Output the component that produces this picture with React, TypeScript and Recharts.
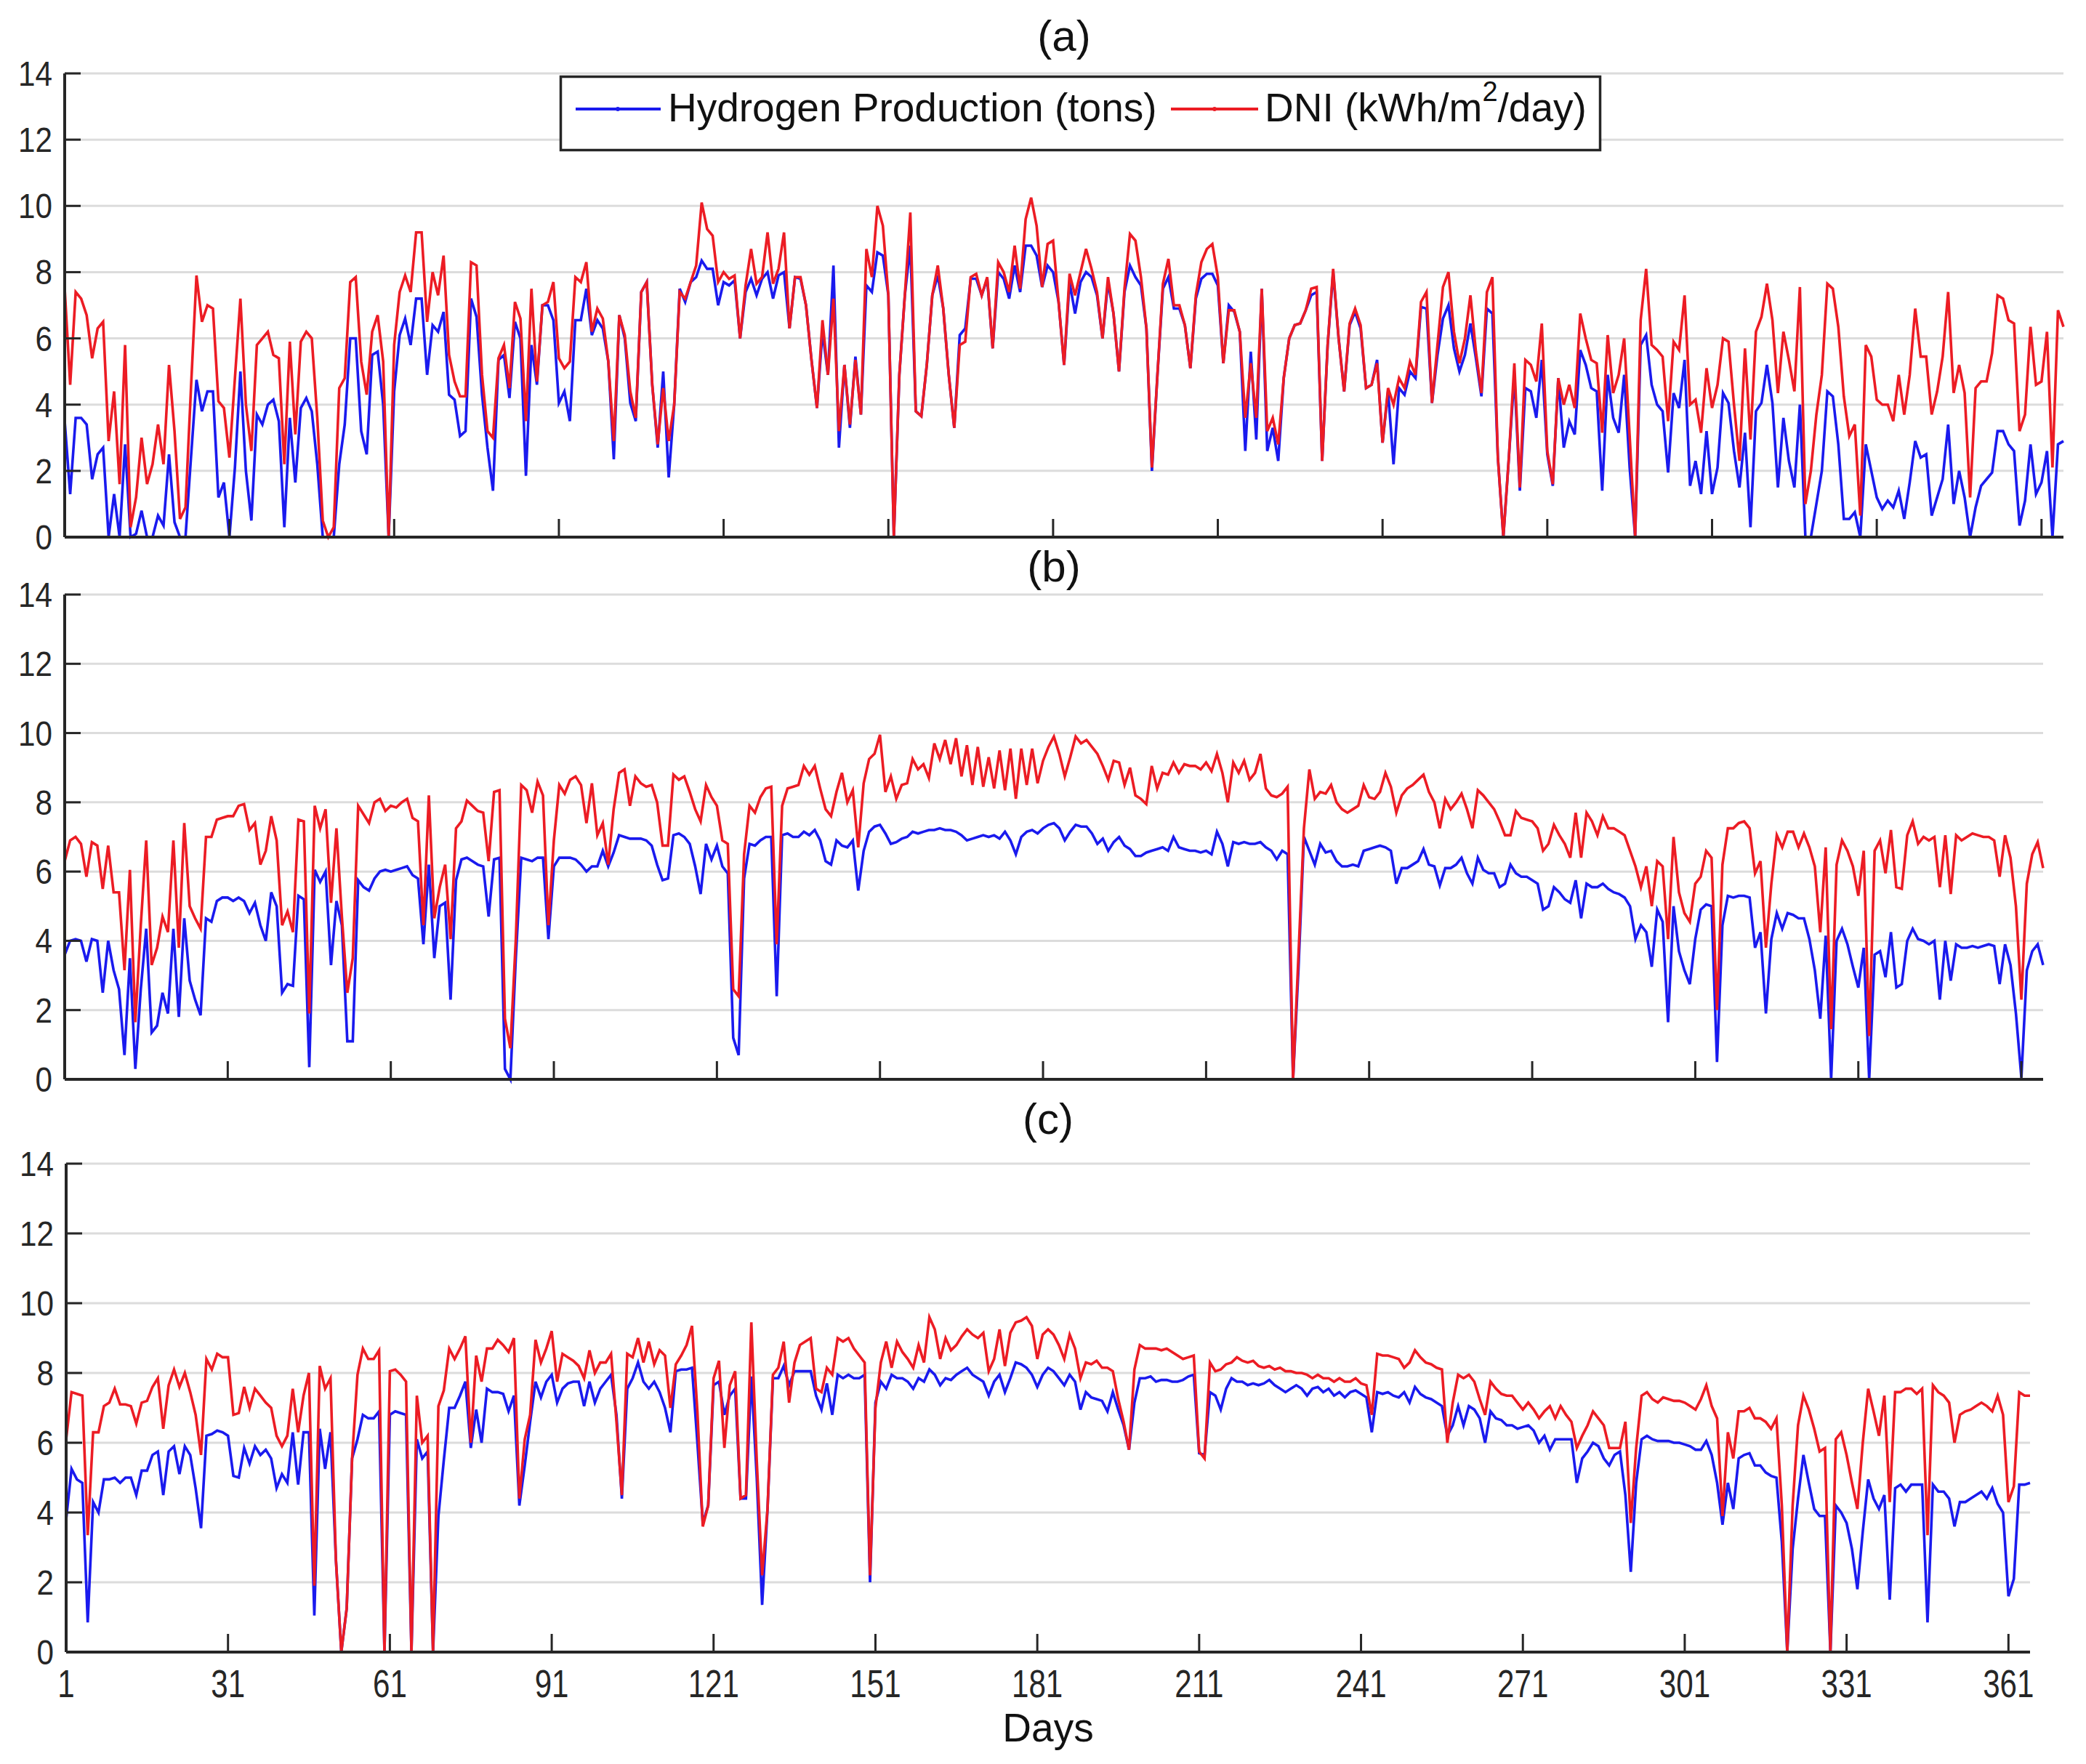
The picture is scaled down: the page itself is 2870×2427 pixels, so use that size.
import React from 'react';
import { LineChart, Line, XAxis, YAxis, CartesianGrid } from 'recharts';

// ---------- Panel (a) ----------
const aH2 = [
  3.5, 1.3, 3.6, 3.6, 3.4, 1.75, 2.5, 2.7, 0, 1.3,
  0, 2.8, 0, 0.1, 0.8, 0, 0, 0.65, 0.35, 2.5,
  0.45, 0, 0, 2.4, 4.75, 3.8, 4.4, 4.4, 1.2, 1.65,
  0, 2.1, 5.0, 2.0, 0.5, 3.7, 3.4, 4.0, 4.15, 3.5,
  0.3, 3.6, 1.65, 3.9, 4.2, 3.8, 2.2, 0, 0, 0,
  2.2, 3.4, 6.0, 6.0, 3.2, 2.5, 5.5, 5.6, 4.0, 0,
  4.4, 6.1, 6.6, 5.8, 7.2, 7.2, 4.9, 6.4, 6.2, 6.8,
  4.3, 4.15, 3.05, 3.2, 7.2, 6.65, 4.3, 2.7, 1.4, 5.35,
  5.5, 4.2, 6.5, 6.0, 1.85, 5.8, 4.6, 7.0, 7.0, 6.55,
  4.05, 4.4, 3.5, 6.55, 6.55, 7.5, 6.1, 6.55, 6.3, 5.3,
  2.35, 6.7, 6.0, 4.05, 3.5, 7.4, 7.7, 4.6, 2.7, 5.0,
  1.8, 4.0, 7.5, 7.1, 7.7, 7.85, 8.35, 8.1, 8.1, 7.0,
  7.7, 7.6, 7.75, 6.0, 7.4, 7.8, 7.3, 7.8, 8.0, 7.2,
  7.9, 8.0, 6.3, 7.85, 7.8, 7.0, 5.35, 3.9, 6.2, 4.9,
  8.2, 2.7, 5.2, 3.3, 5.45, 3.7, 7.6, 7.4, 8.6, 8.5,
  7.3, 0, 4.9, 7.3, 8.8, 3.8, 3.65, 5.2, 7.3, 7.9,
  6.9, 4.9, 3.3, 6.1, 6.3, 7.8, 7.8, 7.3, 7.8, 5.7,
  8.0, 7.8, 7.2, 8.2, 7.4, 8.8, 8.8, 8.5, 7.55, 8.2,
  8.0, 7.1, 5.2, 7.7, 6.75, 7.7, 8.0, 7.85, 7.3, 6.0,
  7.7, 6.75, 5.0, 7.4, 8.2, 7.85, 7.6, 6.3, 2.0, 4.9,
  7.5, 7.85, 6.9, 6.9, 6.4, 5.1, 7.2, 7.8, 7.95, 7.95,
  7.6, 5.25, 7.0, 6.8, 6.2, 2.6, 5.6, 2.95, 7.5, 2.6,
  3.3, 2.3, 4.8, 6.0, 6.4, 6.45, 6.85, 7.3, 7.4, 2.3,
  5.8, 8.0, 6.0, 4.4, 6.4, 6.8, 6.3, 4.5, 4.6, 5.35,
  2.85, 4.4, 2.2, 4.5, 4.3, 5.0, 4.8, 6.95, 6.9, 4.05,
  5.5, 6.6, 7.0, 5.7, 5.0, 5.5, 6.45, 5.4, 4.25, 6.9,
  6.75, 2.4, 0, 2.4, 4.9, 1.4, 4.5, 4.4, 3.6, 5.35,
  2.5, 1.55, 4.8, 2.7, 3.5, 3.1, 5.65, 5.2, 4.5, 4.4,
  1.4, 4.9, 3.6, 3.15, 4.9, 2.1, 0, 5.8, 6.1, 4.6,
  4.0, 3.8, 1.95, 4.35, 3.9, 5.35, 1.55, 2.3, 1.3, 3.2,
  1.3, 2.1, 4.35, 4.05, 2.6, 1.5, 3.15, 0.3, 3.8, 4.05,
  5.2, 4.05, 1.5, 3.6, 2.3, 1.5, 4.0, 0, 0, 1.0,
  2.0, 4.4, 4.25, 2.8, 0.55, 0.55, 0.75, 0, 2.8, 2.0,
  1.2, 0.85, 1.1, 0.9, 1.4, 0.55, 1.65, 2.9, 2.4, 2.5,
  0.65, 1.2, 1.75, 3.4, 1.0, 2.0, 1.2, 0, 0.9, 1.55,
  1.75, 1.95, 3.2, 3.2, 2.8, 2.6, 0.35, 1.1, 2.8, 1.3,
  1.65, 2.6, 0, 2.8, 2.9,
];

const aDni = [
  7.5, 4.6, 7.4, 7.2, 6.7, 5.4, 6.3, 6.5, 2.9, 4.4,
  1.6, 5.8, 0.3, 1.2, 3.0, 1.6, 2.2, 3.4, 2.2, 5.2,
  3.2, 0.55, 0.9, 4.5, 7.9, 6.5, 7.0, 6.9, 4.1, 3.9,
  2.4, 4.8, 7.2, 4.0, 2.6, 5.8, 6.0, 6.2, 5.5, 5.4,
  2.2, 5.9, 3.1, 5.9, 6.2, 6.0, 3.6, 0.5, 0.0, 0.3,
  4.5, 4.8, 7.7, 7.85, 5.3, 4.3, 6.2, 6.7, 5.3, 0.0,
  5.8, 7.4, 7.9, 7.4, 9.2, 9.2, 6.5, 8.0, 7.3, 8.5,
  5.5, 4.7, 4.25, 4.25, 8.3, 8.2, 4.9, 3.2, 3.0, 5.4,
  5.8, 4.5, 7.1, 6.6, 3.5, 7.5, 4.7, 7.0, 7.1, 7.7,
  5.4, 5.1, 5.3, 7.85, 7.7, 8.3, 6.2, 6.9, 6.6, 5.3,
  2.9, 6.7, 6.1, 4.4, 3.6, 7.4, 7.7, 4.6, 2.8, 4.5,
  2.9, 4.0, 7.4, 7.2, 7.7, 8.2, 10.1, 9.3, 9.1, 7.7,
  8.0, 7.8, 7.9, 6.0, 7.6, 8.7, 7.65, 7.85, 9.2, 7.65,
  8.1, 9.2, 6.3, 7.85, 7.85, 7.0, 5.35, 3.9, 6.55, 4.9,
  7.2, 3.2, 5.2, 3.4, 5.35, 3.7, 8.7, 7.85, 10.0, 9.4,
  7.3, 0, 4.9, 7.3, 9.8, 3.8, 3.65, 5.2, 7.3, 8.2,
  6.9, 4.9, 3.3, 5.8, 5.9, 7.85, 7.95, 7.3, 7.85, 5.7,
  8.3, 8.0, 7.4, 8.8, 7.5, 9.6, 10.25, 9.4, 7.55, 8.85,
  8.95, 7.1, 5.2, 7.95, 7.3, 8.0, 8.7, 8.1, 7.4, 6.0,
  7.85, 6.75, 5.0, 7.5, 9.15, 8.95, 7.85, 6.3, 2.1, 4.9,
  7.65, 8.4, 7.0, 7.0, 6.4, 5.1, 7.3, 8.3, 8.7, 8.85,
  7.85, 5.25, 6.85, 6.85, 6.2, 3.6, 5.25, 3.6, 7.5, 3.2,
  3.6, 2.8, 4.8, 6.0, 6.4, 6.45, 6.85, 7.5, 7.55, 2.3,
  5.8, 8.1, 6.0, 4.4, 6.45, 6.9, 6.4, 4.5, 4.6, 5.25,
  2.85, 4.5, 4.0, 4.8, 4.5, 5.3, 4.9, 7.1, 7.4, 4.05,
  5.8, 7.55, 8.0, 6.2, 5.25, 6.0, 7.3, 5.6, 4.35, 7.4,
  7.85, 2.4, 0, 2.4, 5.25, 1.5, 5.35, 5.2, 4.7, 6.45,
  2.6, 1.6, 4.8, 4.0, 4.6, 3.9, 6.75, 6.0, 5.35, 5.25,
  3.15, 6.1, 4.35, 4.9, 6.0, 3.05, 0, 6.55, 8.1, 5.8,
  5.65, 5.45, 3.5, 5.9, 5.65, 7.3, 4.0, 4.15, 3.15, 5.1,
  3.9, 4.6, 6.0, 5.9, 4.0, 2.3, 5.7, 2.95, 6.2, 6.65,
  7.65, 6.55, 4.35, 6.2, 5.35, 4.4, 7.55, 1.0, 2.0, 3.7,
  4.9, 7.65, 7.5, 6.35, 4.25, 3.05, 3.4, 0.65, 5.8, 5.45,
  4.15, 4.0, 4.0, 3.5, 4.9, 3.7, 4.9, 6.9, 5.45, 5.45,
  3.7, 4.4, 5.45, 7.4, 4.35, 5.2, 4.35, 1.2, 4.5, 4.7,
  4.7, 5.55, 7.3, 7.2, 6.55, 6.45, 3.2, 3.7, 6.35, 4.6,
  4.7, 6.2, 2.1, 6.85, 6.35,
];

// ---------- Panel (b) ----------
const bH2 = [
  3.6, 4.0, 4.05, 4.0, 3.4, 4.05, 4.0, 2.5, 4.0, 3.15,
  2.6, 0.7, 3.5, 0.3, 2.6, 4.35, 1.35, 1.55, 2.5, 1.9,
  4.35, 1.8, 4.65, 2.85, 2.3, 1.85, 4.65, 4.55, 5.15, 5.25,
  5.25, 5.15, 5.25, 5.15, 4.8, 5.1, 4.45, 4.0, 5.4, 5.0,
  2.5, 2.75, 2.7, 5.3, 5.2, 0.35, 6.05, 5.7, 6.0, 3.3,
  5.15, 4.45, 1.1, 1.1, 5.75, 5.55, 5.45, 5.8, 6.0, 6.05,
  6.0, 6.05, 6.1, 6.15, 5.9, 5.8, 3.9, 6.2, 3.5, 5.0,
  5.1, 2.3, 5.75, 6.35, 6.4, 6.3, 6.2, 6.15, 4.7, 6.35,
  6.4, 0.3, 0, 3.5, 6.4, 6.35, 6.3, 6.4, 6.4, 4.05,
  6.15, 6.4, 6.4, 6.4, 6.35, 6.2, 6.0, 6.15, 6.15, 6.6,
  6.15, 6.55, 7.05, 7.0, 6.95, 6.95, 6.95, 6.9, 6.75, 6.2,
  5.75, 5.8, 7.05, 7.1, 7.0, 6.8, 6.15, 5.35, 6.8, 6.35,
  6.75, 6.15, 5.95, 1.2, 0.7, 5.8, 6.8, 6.75, 6.9, 7.0,
  7.0, 2.4, 7.05, 7.1, 7.0, 7.0, 7.15, 7.05, 7.2, 6.9,
  6.3, 6.2, 6.9, 6.75, 6.7, 6.9, 5.45, 6.6, 7.15, 7.3,
  7.35, 7.1, 6.8, 6.85, 6.95, 7.0, 7.15, 7.1, 7.15, 7.2,
  7.2, 7.25, 7.2, 7.2, 7.15, 7.05, 6.9, 6.95, 7.0, 7.05,
  7.0, 7.05, 6.95, 7.15, 6.9, 6.5, 7.0, 7.15, 7.2, 7.1,
  7.25, 7.35, 7.4, 7.25, 6.9, 7.15, 7.35, 7.3, 7.3, 7.1,
  6.8, 6.95, 6.6, 6.85, 7.0, 6.75, 6.65, 6.45, 6.45, 6.55,
  6.6, 6.65, 6.7, 6.6, 7.0, 6.7, 6.65, 6.6, 6.6, 6.55,
  6.6, 6.5, 7.15, 6.8, 6.15, 6.85, 6.8, 6.85, 6.8, 6.8,
  6.85, 6.7, 6.6, 6.35, 6.6, 6.5, 0, 3.2, 7.0, 6.6,
  6.2, 6.8, 6.55, 6.6, 6.3, 6.15, 6.15, 6.2, 6.15, 6.6,
  6.65, 6.7, 6.75, 6.7, 6.6, 5.65, 6.1, 6.1, 6.2, 6.3,
  6.65, 6.2, 6.15, 5.6, 6.1, 6.1, 6.2, 6.4, 5.95, 5.65,
  6.4, 6.05, 5.95, 5.95, 5.55, 5.65, 6.2, 5.95, 5.85, 5.85,
  5.75, 5.65, 4.9, 5.0, 5.55, 5.4, 5.2, 5.1, 5.75, 4.65,
  5.65, 5.55, 5.55, 5.65, 5.5, 5.4, 5.35, 5.25, 5.0, 4.05,
  4.45, 4.25, 3.25, 4.9, 4.55, 1.65, 5.0, 3.7, 3.15, 2.75,
  4.05, 4.9, 5.05, 5.0, 0.5, 4.45, 5.3, 5.25, 5.3, 5.3,
  5.25, 3.8, 4.25, 1.9, 4.05, 4.8, 4.35, 4.8, 4.75, 4.65,
  4.65, 4.05, 3.15, 1.75, 4.15, 0, 4.0, 4.35, 3.9, 3.25,
  2.65, 3.8, 0, 3.6, 3.7, 2.95, 4.25, 2.65, 2.75, 4.0,
  4.35, 4.05, 4.0, 3.9, 4.0, 2.3, 4.0, 2.85, 3.9, 3.8,
  3.8, 3.85, 3.8, 3.85, 3.9, 3.85, 2.75, 3.9, 3.3, 1.9,
  0.05, 3.15, 3.7, 3.9, 3.3,
];

const bDni = [
  6.3, 6.9, 7.0, 6.8, 5.85, 6.85, 6.75, 5.5, 6.75, 5.4,
  5.4, 3.15, 6.05, 1.65, 4.45, 6.9, 3.3, 3.8, 4.7, 4.25,
  6.9, 3.8, 7.4, 5.0, 4.65, 4.35, 7.0, 7.0, 7.5, 7.55,
  7.6, 7.6, 7.9, 7.95, 7.2, 7.4, 6.2, 6.6, 7.6, 6.9,
  4.45, 4.85, 4.25, 7.5, 7.45, 1.9, 7.9, 7.25, 7.8, 5.1,
  7.25, 4.7, 2.5, 3.5, 7.9, 7.65, 7.4, 8.0, 8.1, 7.75,
  7.9, 7.85, 8.0, 8.1, 7.55, 7.45, 4.45, 8.2, 4.65, 5.55,
  6.2, 4.05, 7.25, 7.45, 8.05, 7.9, 7.75, 7.7, 6.3, 8.3,
  8.35, 1.75, 0.9, 4.05, 8.5, 8.35, 7.7, 8.6, 8.2, 4.45,
  6.9, 8.5, 8.25, 8.65, 8.75, 8.5, 7.4, 8.55, 7.05, 7.4,
  6.2, 7.8, 8.85, 8.95, 7.9, 8.75, 8.55, 8.45, 8.5, 8.0,
  6.75, 6.75, 8.8, 8.65, 8.75, 8.3, 7.8, 7.45, 8.5, 8.15,
  7.9, 6.9, 6.8, 2.6, 2.4, 6.5, 7.9, 7.7, 8.15, 8.4,
  8.45, 3.9, 7.9, 8.4, 8.45, 8.5, 9.05, 8.8, 9.05, 8.4,
  7.8, 7.6, 8.3, 8.85, 8.0, 8.35, 6.7, 8.55, 9.25, 9.4,
  9.95, 8.3, 8.75, 8.1, 8.5, 8.55, 9.25, 8.95, 9.1, 8.7,
  9.7, 9.25, 9.8, 9.1, 9.85, 8.75, 9.65, 8.5, 9.6, 8.45,
  9.3, 8.4, 9.5, 8.35, 9.55, 8.1, 9.55, 8.5, 9.55, 8.55,
  9.2, 9.6, 9.9, 9.4, 8.75, 9.3, 9.9, 9.7, 9.8, 9.6,
  9.4, 9.05, 8.65, 9.2, 9.15, 8.5, 9.0, 8.2, 8.1, 7.95,
  9.05, 8.4, 8.85, 8.8, 9.15, 8.85, 9.1, 9.05, 9.05, 8.95,
  9.15, 8.9, 9.4, 8.85, 8.0, 9.15, 8.85, 9.2, 8.65, 8.85,
  9.4, 8.4, 8.2, 8.15, 8.25, 8.45, 0, 3.6, 7.25, 8.95,
  8.1, 8.3, 8.25, 8.5, 8.0, 7.8, 7.7, 7.8, 7.9, 8.5,
  8.15, 8.1, 8.3, 8.85, 8.45, 7.7, 8.2, 8.4, 8.5, 8.65,
  8.8, 8.3, 8.0, 7.25, 8.1, 7.8, 8.0, 8.25, 7.8, 7.25,
  8.35, 8.2, 8.0, 7.8, 7.45, 7.05, 7.05, 7.75, 7.55, 7.5,
  7.45, 7.25, 6.6, 6.8, 7.35, 7.05, 6.8, 6.4, 7.7, 6.4,
  7.7, 7.45, 7.05, 7.6, 7.25, 7.25, 7.15, 7.05, 6.6, 6.15,
  5.55, 6.15, 5.0, 6.3, 6.15, 4.05, 7.0, 5.4, 4.8, 4.55,
  5.65, 5.85, 6.6, 6.4, 2.0, 6.2, 7.25, 7.25, 7.4, 7.45,
  7.25, 5.95, 6.3, 3.8, 5.65, 7.05, 6.7, 7.15, 7.15, 6.7,
  7.1, 6.7, 6.15, 4.25, 6.7, 1.45, 6.2, 6.9, 6.6, 6.15,
  5.3, 6.6, 1.25, 6.6, 6.9, 5.95, 7.2, 5.55, 5.5, 7.05,
  7.45, 6.8, 7.0, 6.9, 7.0, 5.55, 7.05, 5.35, 7.05, 6.9,
  7.0, 7.1, 7.05, 7.0, 7.0, 6.9, 5.85, 7.05, 6.4, 5.0,
  2.3, 5.65, 6.5, 6.85, 6.1,
];

// ---------- Panel (c) ----------
const cH2 = [
  3.8, 5.25, 4.95, 4.85, 0.85, 4.3, 4.0, 4.95, 4.95, 5.0,
  4.85, 5.0, 5.0, 4.5, 5.2, 5.2, 5.65, 5.75, 4.5, 5.75,
  5.9, 5.1, 5.9, 5.65, 4.7, 3.55, 6.2, 6.25, 6.35, 6.3,
  6.2, 5.05, 5.0, 5.85, 5.4, 5.9, 5.65, 5.8, 5.55, 4.7,
  5.1, 4.85, 6.3, 4.8, 6.3, 6.3, 1.05, 6.4, 5.25, 6.3,
  2.65, 0, 1.25, 5.55, 6.1, 6.8, 6.7, 6.7, 6.9, 0,
  6.8, 6.9, 6.85, 6.8, 0, 6.1, 5.55, 5.75, 0, 3.9,
  5.5, 7.0, 7.0, 7.35, 7.75, 5.85, 6.95, 6.0, 7.55, 7.45,
  7.45, 7.4, 6.9, 7.35, 4.2, 5.35, 6.6, 7.75, 7.3, 7.75,
  7.95, 7.15, 7.55, 7.7, 7.75, 7.75, 7.05, 7.75, 7.15, 7.55,
  7.75, 7.95, 6.8, 4.4, 7.55, 7.85, 8.3, 7.75, 7.55, 7.75,
  7.45, 7.0, 6.3, 8.05, 8.1, 8.1, 8.15, 6.0, 3.7, 4.2,
  7.65, 7.75, 6.8, 7.35, 7.55, 4.4, 4.4, 7.9, 5.0, 1.35,
  4.1, 7.85, 7.85, 8.2, 7.65, 8.05, 8.05, 8.05, 8.05, 7.35,
  6.95, 7.7, 6.8, 7.95, 7.85, 7.95, 7.85, 7.85, 7.95, 2.0,
  7.15, 7.75, 7.55, 7.95, 7.85, 7.85, 7.75, 7.55, 7.85, 7.75,
  8.1, 7.95, 7.65, 7.85, 7.8, 7.95, 8.05, 8.15, 7.95, 7.85,
  7.75, 7.35, 7.75, 7.95, 7.45, 7.85, 8.3, 8.25, 8.15, 7.95,
  7.6, 7.95, 8.15, 8.05, 7.85, 7.65, 7.95, 7.75, 6.95, 7.45,
  7.3, 7.25, 7.2, 6.9, 7.45, 6.95, 6.5, 5.8, 7.15, 7.85,
  7.85, 7.9, 7.75, 7.8, 7.8, 7.75, 7.75, 7.8, 7.9, 7.95,
  5.7, 5.65, 7.45, 7.35, 6.95, 7.55, 7.85, 7.75, 7.75, 7.65,
  7.7, 7.65, 7.7, 7.8, 7.65, 7.55, 7.45, 7.55, 7.65, 7.55,
  7.35, 7.55, 7.6, 7.45, 7.55, 7.35, 7.45, 7.3, 7.45, 7.5,
  7.4, 7.3, 6.3, 7.45, 7.4, 7.45, 7.35, 7.3, 7.45, 7.15,
  7.6, 7.4, 7.3, 7.25, 7.15, 7.05, 6.2, 6.5, 7.05, 6.5,
  7.05, 6.95, 6.7, 6.0, 6.9, 6.7, 6.65, 6.5, 6.5, 6.4,
  6.45, 6.5, 6.35, 6.0, 6.2, 5.8, 6.1, 6.1, 6.1, 6.1,
  4.85, 5.55, 5.75, 6.0, 5.9, 5.55, 5.35, 5.65, 5.75, 4.5,
  2.3, 4.85, 6.1, 6.2, 6.1, 6.05, 6.05, 6.05, 6.0, 6.0,
  5.95, 5.9, 5.8, 5.8, 6.05, 5.65, 4.85, 3.65, 4.85, 4.1,
  5.55, 5.65, 5.7, 5.35, 5.35, 5.15, 5.05, 5.0, 3.15, 0,
  2.95, 4.4, 5.65, 4.85, 4.1, 3.9, 3.9, 0, 4.2, 4.0,
  3.7, 2.95, 1.8, 3.45, 4.95, 4.4, 4.1, 4.5, 1.5, 4.7,
  4.8, 4.6, 4.8, 4.8, 4.8, 0.85, 4.8, 4.6, 4.6, 4.4,
  3.6, 4.3, 4.3, 4.4, 4.5, 4.6, 4.4, 4.7, 4.25, 4.0,
  1.6, 2.1, 4.8, 4.8, 4.85,
];

const cDni = [
  6.1, 7.45, 7.4, 7.35, 3.35, 6.3, 6.3, 7.05, 7.15, 7.55,
  7.1, 7.1, 7.05, 6.55, 7.15, 7.2, 7.6, 7.85, 6.4, 7.65,
  8.1, 7.6, 8.0, 7.45, 6.8, 5.65, 8.4, 8.1, 8.55, 8.45,
  8.45, 6.8, 6.85, 7.6, 7.0, 7.55, 7.35, 7.15, 7.0, 6.2,
  5.9, 6.2, 7.55, 6.3, 7.35, 8.0, 1.9, 8.2, 7.55, 7.85,
  2.65, 0, 1.25, 5.55, 7.95, 8.7, 8.4, 8.4, 8.65, 0,
  8.05, 8.1, 7.95, 7.75, 0, 7.35, 6.0, 6.2, 0, 7.05,
  7.5, 8.7, 8.4, 8.7, 9.05, 6.0, 8.5, 7.75, 8.7, 8.7,
  8.95, 8.8, 8.6, 9.0, 4.4, 6.1, 6.8, 8.95, 8.3, 8.7,
  9.2, 7.75, 8.55, 8.45, 8.35, 8.2, 7.85, 8.65, 8.0, 8.3,
  8.3, 8.55, 6.6, 4.5, 8.55, 8.45, 9.0, 8.3, 8.9, 8.25,
  8.65, 8.5, 7.0, 8.25, 8.5, 8.8, 9.35, 6.9, 3.6, 4.2,
  7.85, 8.35, 5.85, 7.65, 8.05, 4.4, 4.5, 9.45, 5.5, 2.2,
  4.1, 7.95, 8.15, 8.9, 7.15, 8.3, 8.8, 8.9, 9.0, 7.55,
  7.45, 8.15, 7.95, 9.0, 8.9, 9.0, 8.7, 8.5, 8.3, 2.2,
  7.0, 8.3, 8.9, 8.15, 8.9, 8.6, 8.4, 8.15, 8.8, 8.3,
  9.6, 9.25, 8.4, 9.0, 8.65, 8.8, 9.05, 9.25, 9.1, 9.0,
  9.15, 8.05, 8.4, 9.25, 8.2, 9.15, 9.45, 9.5, 9.6, 9.35,
  8.4, 9.1, 9.25, 9.1, 8.8, 8.4, 9.1, 8.7, 7.85, 8.3,
  8.25, 8.35, 8.15, 8.15, 8.05, 7.25, 6.6, 5.8, 8.1, 8.8,
  8.7, 8.7, 8.7, 8.65, 8.7, 8.6, 8.5, 8.4, 8.45, 8.5,
  5.75, 5.55, 8.3, 8.05, 8.1, 8.25, 8.3, 8.45, 8.35, 8.3,
  8.35, 8.2, 8.15, 8.2, 8.1, 8.15, 8.05, 8.05, 8.0, 8.0,
  7.95, 7.85, 7.95, 7.85, 7.85, 7.75, 7.85, 7.75, 7.75, 7.85,
  7.7, 7.65, 6.8, 8.55, 8.5, 8.5, 8.45, 8.4, 8.15, 8.3,
  8.65, 8.45, 8.3, 8.25, 8.15, 8.1, 6.0, 7.15, 7.95, 7.85,
  7.95, 7.75, 7.25, 6.8, 7.75, 7.55, 7.4, 7.35, 7.35, 7.15,
  6.95, 7.15, 6.95, 6.7, 6.9, 7.05, 6.7, 7.05, 6.8, 6.6,
  5.85, 6.2, 6.5, 6.9, 6.7, 6.5, 5.85, 5.85, 5.85, 6.6,
  3.7, 5.85, 7.35, 7.45, 7.25, 7.15, 7.3, 7.25, 7.2, 7.2,
  7.15, 7.05, 6.95, 7.25, 7.65, 7.05, 6.7, 3.9, 6.3, 5.55,
  6.9, 6.9, 7.0, 6.7, 6.7, 6.6, 6.4, 6.7, 4.2, 0,
  4.2, 6.5, 7.35, 6.95, 6.4, 5.75, 5.85, 0, 6.1, 6.3,
  5.65, 4.85, 4.1, 6.0, 7.55, 6.9, 6.2, 7.35, 4.3, 7.45,
  7.45, 7.55, 7.55, 7.4, 7.55, 3.35, 7.65, 7.45, 7.35, 7.15,
  6.0, 6.8, 6.9, 6.95, 7.05, 7.15, 7.05, 6.9, 7.35, 6.8,
  4.3, 4.75, 7.45, 7.35, 7.35,
];

// ---------- Axes ----------
const xTicks = [1, 31, 61, 91, 121, 151, 181, 211, 241, 271, 301, 331, 361];
const yTicks = [0, 2, 4, 6, 8, 10, 12, 14];
const seriesNames = ['Hydrogen Production (tons)', 'DNI (kWh/m', '2', '/day)'];
const panelTitles = ['(a)', '(b)', '(c)'];
const xAxisTitle = 'Days';

const FONT = '"Liberation Sans", Arial, Helvetica, sans-serif';
const BLUE = '#1a1aee';
const RED = '#ec1c24';
const AXIS = '#262626';
const W = 2870;

const days = aDni.map((_, i) => i + 1);
const build = (h2: number[], dni: number[]) =>
  days.map((d, i) => ({ day: d, h2: h2[i], dni: dni[i] }));

const dataA = build(aH2, aDni);
const dataB = build(bH2, bDni);
const dataC = build(cH2, cDni);

const XTick = (props: any) => {
  const { x, y, payload, showLabel } = props;
  return (
    <g>
      <line x1={x} x2={x} y1={y} y2={y - 25} stroke={AXIS} strokeWidth={3} />
      {showLabel ? (
        <text
          transform={`translate(${x},${y + 62}) scale(0.78,1)`}
          textAnchor="middle"
          fontSize={54}
          fontFamily={FONT}
          fill={AXIS}
        >
          {payload.value}
        </text>
      ) : null}
    </g>
  );
};

const YTick = (props: any) => {
  const { x, y, payload } = props;
  return (
    <g>
      <line x1={x} x2={x + 22} y1={y} y2={y} stroke={AXIS} strokeWidth={3} />
      <text
        transform={`translate(${x - 17},${y + 17}) scale(0.88,1)`}
        textAnchor="end"
        fontSize={48}
        fontFamily={FONT}
        fill={AXIS}
      >
        {payload.value}
      </text>
    </g>
  );
};

type PanelProps = {
  top: number;
  height: number;
  plotTop: number;
  plotBottom: number;
  plotLeft: number;
  plotRight: number;
  data: any[];
  showLabels: boolean;
};

const Panel = ({ top, height, plotTop, plotBottom, plotLeft, plotRight, data, showLabels }: PanelProps) => {
  const xAxisHeight = top + height - plotBottom;
  return (
    <div style={{ position: 'absolute', left: 0, top, width: W, height }}>
      <LineChart
        width={W}
        height={height}
        data={data}
        margin={{ top: plotTop - top, right: W - plotRight, left: 0, bottom: 0 }}
      >
        <CartesianGrid horizontal vertical={false} stroke="#dcdcdc" strokeWidth={3} />
        <XAxis
          dataKey="day"
          type="number"
          domain={[1, 365]}
          ticks={xTicks}
          interval={0}
          height={xAxisHeight}
          tickLine={false}
          tickSize={0}
          tickMargin={0}
          axisLine={{ stroke: AXIS, strokeWidth: 4 }}
          tick={(p: any) => <XTick {...p} showLabel={showLabels} />}
        />
        <YAxis
          type="number"
          domain={[0, 14]}
          ticks={yTicks}
          interval={0}
          width={plotLeft}
          tickLine={false}
          tickSize={0}
          tickMargin={0}
          axisLine={{ stroke: AXIS, strokeWidth: 4 }}
          tick={(p: any) => <YTick {...p} />}
        />
        <Line
          type="linear"
          dataKey="h2"
          stroke={BLUE}
          strokeWidth={3.6}
          dot={false}
          isAnimationActive={false}
        />
        <Line
          type="linear"
          dataKey="dni"
          stroke={RED}
          strokeWidth={3.6}
          dot={false}
          isAnimationActive={false}
        />
      </LineChart>
    </div>
  );
};

export default function App() {
  return (
    <div
      style={{
        position: 'absolute',
        left: 0,
        top: 0,
        width: W,
        height: 2427,
        background: '#ffffff',
        fontFamily: FONT,
        overflow: 'hidden',
      }}
    >
      <Panel top={0} height={790} plotTop={101} plotBottom={739} plotLeft={89} plotRight={2839} data={dataA} showLabels={false} />
      <Panel top={760} height={775} plotTop={818} plotBottom={1485} plotLeft={89} plotRight={2811} data={dataB} showLabels={false} />
      <Panel top={1505} height={922} plotTop={1601} plotBottom={2273} plotLeft={91} plotRight={2793} data={dataC} showLabels />

      <svg
        width={W}
        height={2427}
        style={{ position: 'absolute', left: 0, top: 0, pointerEvents: 'none' }}
        fontFamily={FONT}
      >
        <text x={1464} y={70} textAnchor="middle" fontSize={60} fill="#111">{panelTitles[0]}</text>
        <text x={1450} y={800} textAnchor="middle" fontSize={60} fill="#111">{panelTitles[1]}</text>
        <text x={1442} y={1560} textAnchor="middle" fontSize={60} fill="#111">{panelTitles[2]}</text>

        <g transform="translate(770,104)">
          <rect x={1.5} y={1.5} width={1430} height={101} fill="#ffffff" stroke={AXIS} strokeWidth={3.5} />
          <line x1={22} x2={139} y1={46} y2={46} stroke={BLUE} strokeWidth={4} />
          <circle cx={80} cy={46} r={3} fill={BLUE} />
          <text x={149} y={63} fontSize={55} fill="#111">{seriesNames[0]}</text>
          <line x1={841} x2={961} y1={46} y2={46} stroke={RED} strokeWidth={4} />
          <circle cx={901} cy={46} r={3} fill={RED} />
          <text x={970} y={63} fontSize={55} fill="#111">
            {seriesNames[1]}
            <tspan dy={-28} fontSize={38}>{seriesNames[2]}</tspan>
            <tspan dy={28}>{seriesNames[3]}</tspan>
          </text>
        </g>

        <text x={1442} y={2396} textAnchor="middle" fontSize={55} fill="#111">{xAxisTitle}</text>
      </svg>
    </div>
  );
}
